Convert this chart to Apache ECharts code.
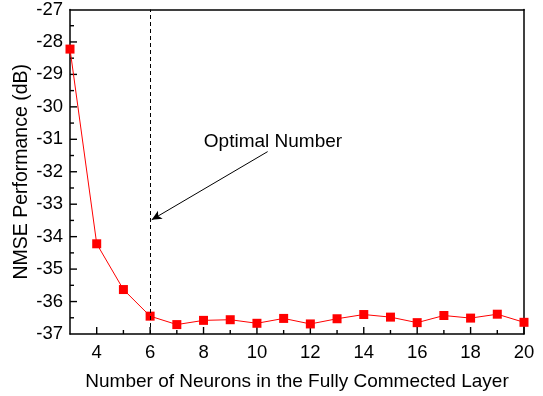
<!DOCTYPE html>
<html>
<head>
<meta charset="utf-8">
<script src="https://cdn.jsdelivr.net/npm/echarts@6/dist/echarts.min.js"></script>
<style>html,body{margin:0;padding:0;background:#fff}#c{width:543px;height:396px}</style>
</head>
<body>
<div id="c"></div>
<script>
const neurons = [3,4,5,6,7,8,9,10,11,12,13,14,15,16,17,18,19,20];
const nmse = [-28.22,-34.22,-35.63,-36.45,-36.71,-36.58,-36.56,-36.67,-36.52,-36.69,-36.53,-36.40,-36.48,-36.65,-36.43,-36.51,-36.39,-36.64];
const xMajorTicks = [4,6,8,10,12,14,16,18,20];
const xMinorTicks = [5,7,9,11,13,15,17,19];
const yMajorTicks = [-36,-35,-34,-33,-32,-31,-30,-29,-28];
const yMinorTicks = [-36.5,-35.5,-34.5,-33.5,-32.5,-31.5,-30.5,-29.5,-28.5,-27.5];
const optimalNeurons = 6;
const arrowStart = [10.40,-31.38];
const arrowEnd = [6.06,-33.48];
const noteText = 'Optimal Number';
const notePos = [10.60,-31.08];
const xTitle = 'Number of Neurons in the Fully Commected Layer';
const yTitle = 'NMSE Performance (dB)';

const X_MIN = 3, X_MAX = 20, Y_MIN = -37, Y_MAX = -27;
const FONT = 'Liberation Sans, Arial, sans-serif';

function tickSeries(values, onX, len){
  return {
    type:'custom', silent:true, clip:false, z:2,
    encode:{x:0, y:1},
    data: values.map(v => onX ? [v, Y_MIN] : [X_MIN, v]),
    renderItem: (params, api) => {
      const p = api.coord([api.value(0), api.value(1)]);
      const shape = onX ? {x1:p[0], y1:p[1], x2:p[0], y2:p[1]-len}
                        : {x1:p[0], y1:p[1], x2:p[0]+len, y2:p[1]};
      return {type:'line', shape:shape, style:{stroke:'#000', lineWidth:1.4}};
    }
  };
}

const chart = echarts.init(document.getElementById('c'), null, {renderer:'canvas'});
chart.setOption({
  animation:false,
  grid: {left:70, right:19, top:8, bottom:62},
  xAxis: [{
    type:'value', min:X_MIN, max:X_MAX, interval:1, position:'bottom',
    name:xTitle, nameLocation:'middle', nameGap:38, nameMoveOverlap:false,
    nameTextStyle:{fontFamily:FONT, fontSize:19, color:'#000'},
    axisLine:{show:true, lineStyle:{color:'#000', width:1.5}},
    axisTick:{show:false},
    axisLabel:{fontFamily:FONT, fontSize:18.5, color:'#000', margin:9, customValues:xMajorTicks},
    splitLine:{show:false}
  },{
    type:'value', min:X_MIN, max:X_MAX, interval:1, position:'top',
    axisLine:{show:true, lineStyle:{color:'#000', width:1.5}},
    axisTick:{show:false}, axisLabel:{show:false}, splitLine:{show:false}
  }],
  yAxis: [{
    type:'value', min:Y_MIN, max:Y_MAX, interval:1, position:'left',
    name:yTitle, nameLocation:'middle', nameGap:38, nameMoveOverlap:false,
    nameTextStyle:{fontFamily:FONT, fontSize:19.5, color:'#000'},
    axisLine:{show:true, lineStyle:{color:'#000', width:1.5}},
    axisTick:{show:false},
    axisLabel:{fontFamily:FONT, fontSize:18.5, color:'#000', margin:7},
    splitLine:{show:false}
  },{
    type:'value', min:Y_MIN, max:Y_MAX, interval:1, position:'right',
    axisLine:{show:true, lineStyle:{color:'#000', width:1.5}},
    axisTick:{show:false}, axisLabel:{show:false}, splitLine:{show:false}
  }],
  series: [
    tickSeries(xMajorTicks, true, 7),
    tickSeries(xMinorTicks, true, 4),
    tickSeries(yMajorTicks, false, 7),
    tickSeries(yMinorTicks, false, 4),
  {
    type:'line',
    data: neurons.map((x,i)=>[x, nmse[i]]),
    symbol:'rect', symbolSize:9,
    itemStyle:{color:'#ff0000'},
    lineStyle:{color:'#ff0000', width:1},
    z:3,
    markLine:{
      silent:true,
      symbol:['none','none'],
      label:{show:false},
      lineStyle:{color:'#000', type:[4,3], width:1},
      data:[{xAxis:optimalNeurons}]
    }
  },{
    type:'line', data:[],
    markLine:{
      silent:true,
      symbol:['none','arrow'], symbolSize:[7,10],
      label:{show:false},
      lineStyle:{color:'#000', type:'solid', width:1},
      data:[[{coord:arrowStart},{coord:arrowEnd}]]
    },
    markPoint:{
      silent:true,
      symbol:'circle', symbolSize:0,
      label:{show:true, formatter:noteText, fontFamily:FONT, fontSize:19, color:'#000', position:'inside'},
      data:[{coord:notePos, value:noteText}]
    }
  }]
});
</script>
</body>
</html>
